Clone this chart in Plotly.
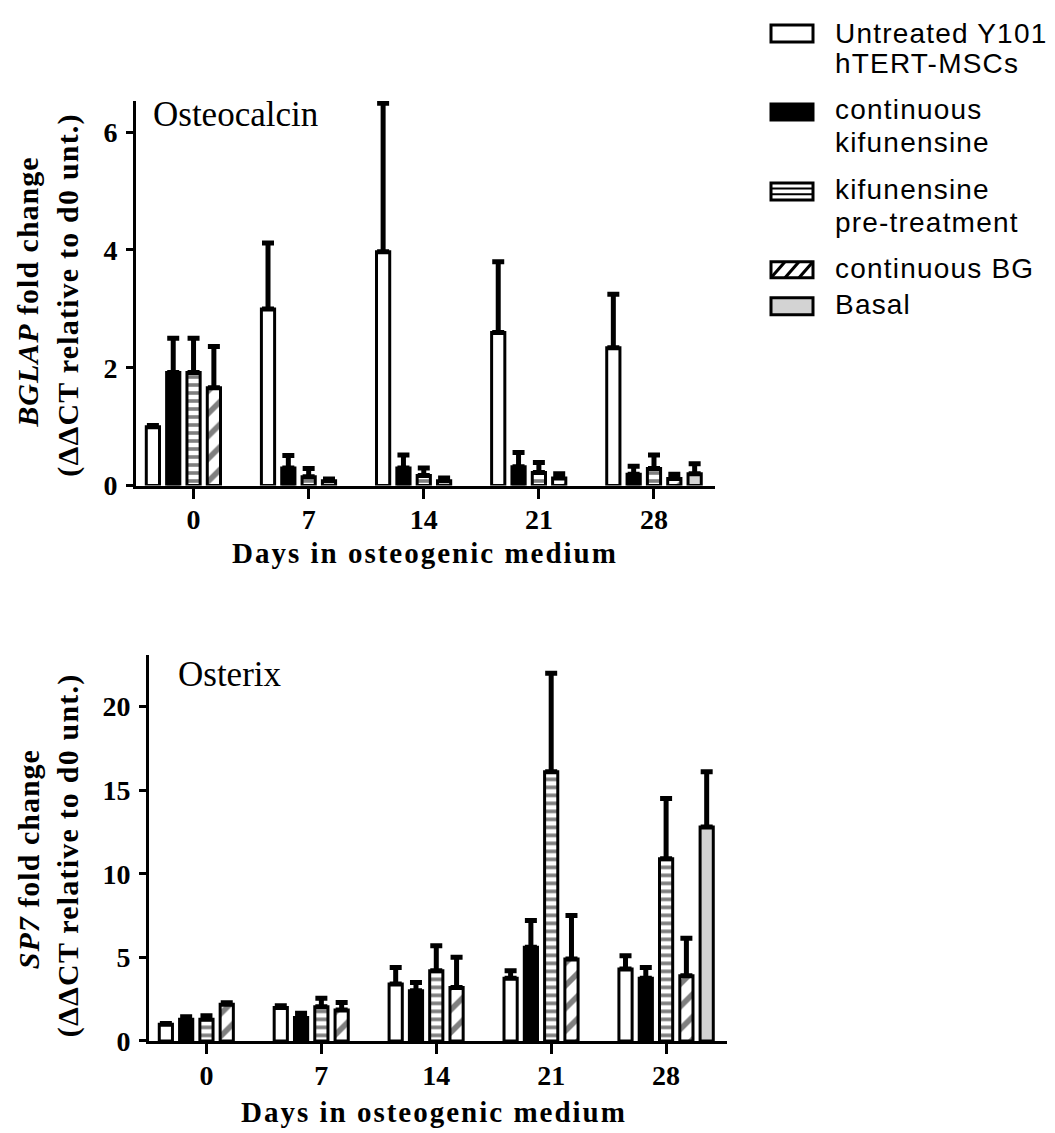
import plotly.graph_objects as go

# ---------------- data ----------------
days = ["0", "7", "14", "21", "28"]
series_names = ["Untreated Y101 hTERT-MSCs", "continuous kifunensine",
                "kifunensine pre-treatment", "continuous BG", "Basal"]

# Osteocalcin (BGLAP) fold change, mean and SD (upper error only)
bglap_untreated = [1.0, 3.0, 3.97, 2.6, 2.34]
bglap_untreated_err = [0.02, 1.12, 2.52, 1.2, 0.91]
bglap_cont_kif = [1.92, 0.3, 0.3, 0.32, 0.19]
bglap_cont_kif_err = [0.58, 0.21, 0.22, 0.24, 0.14]
bglap_kif_pre = [1.92, 0.15, 0.17, 0.22, 0.29]
bglap_kif_pre_err = [0.58, 0.14, 0.13, 0.17, 0.23]
bglap_cont_bg = [1.66, 0.08, 0.08, 0.13, 0.12]
bglap_cont_bg_err = [0.70, 0.03, 0.05, 0.07, 0.07]
bglap_basal = [None, None, None, None, 0.2]
bglap_basal_err = [None, None, None, None, 0.17]

# Osterix (SP7) fold change
sp7_untreated = [1.0, 2.0, 3.4, 3.75, 4.3]
sp7_untreated_err = [0.05, 0.1, 1.0, 0.45, 0.8]
sp7_cont_kif = [1.3, 1.4, 3.0, 5.6, 3.75]
sp7_cont_kif_err = [0.15, 0.25, 0.5, 1.6, 0.65]
sp7_kif_pre = [1.3, 2.05, 4.2, 16.1, 10.9]
sp7_kif_pre_err = [0.2, 0.5, 1.5, 5.9, 3.6]
sp7_cont_bg = [2.2, 1.85, 3.2, 4.9, 3.9]
sp7_cont_bg_err = [0.08, 0.45, 1.8, 2.6, 2.25]
sp7_basal = [None, None, None, None, 12.8]
sp7_basal_err = [None, None, None, None, 3.3]

bglap_ticks = [0, 2, 4, 6]
sp7_ticks = [0, 5, 10, 15, 20]

# ---------------- helpers ----------------
OFF = 8            # default body margin of the html page
W = 1055 - 2 * OFF
H = 1128
SY = 1148 / 1133   # vertical compensation for the page capture


def px(x):
    return (x - OFF) / W


def py(y):
    return 1 - (y * SY - OFF) / H


SERIF = "Liberation Serif"
SANS = "Liberation Sans"
GRAY = "#d3d3d3"

styles = [
    dict(color="white"),
    dict(color="black"),
    dict(color="white", pattern=dict(shape="-", fgcolor="black", bgcolor="white",
                                     size=8, solidity=0.45)),
    dict(color="white", pattern=dict(shape="/", fgcolor="black", bgcolor="white",
                                     size=16, solidity=0.35)),
    dict(color=GRAY),
]


def make_bar(name, vals, errs, style, xa, ya):
    marker = dict(line=dict(color="black", width=3))
    marker.update(style)
    return go.Bar(
        name=name, x=days, y=vals, xaxis=xa, yaxis=ya,
        marker=marker,
        error_y=dict(type="data", array=errs, arrayminus=[0] * len(errs),
                     symmetric=False, color="black", thickness=5, width=6),
        showlegend=False,
    )


fig = go.Figure()

top_sets = [(bglap_untreated, bglap_untreated_err), (bglap_cont_kif, bglap_cont_kif_err),
            (bglap_kif_pre, bglap_kif_pre_err), (bglap_cont_bg, bglap_cont_bg_err),
            (bglap_basal, bglap_basal_err)]
bot_sets = [(sp7_untreated, sp7_untreated_err), (sp7_cont_kif, sp7_cont_kif_err),
            (sp7_kif_pre, sp7_kif_pre_err), (sp7_cont_bg, sp7_cont_bg_err),
            (sp7_basal, sp7_basal_err)]

for name, (v, e), st in zip(series_names, top_sets, styles):
    fig.add_trace(make_bar(name, v, e, st, "x", "y"))
for name, (v, e), st in zip(series_names, bot_sets, styles):
    fig.add_trace(make_bar(name, v, e, st, "x2", "y2"))

tickfont = dict(family=SERIF, size=28, color="black", weight="bold")
common_x = dict(type="category", range=[-0.5, 4.53], showline=True, linewidth=3,
                linecolor="black", ticks="outside", ticklen=10, tickwidth=3,
                tickcolor="black", tickfont=tickfont, showgrid=False, zeroline=False,
                ticklabelstandoff=-3, fixedrange=True)
common_y = dict(showline=True, linewidth=3, linecolor="black", ticks="outside",
                ticklen=7, tickwidth=3, tickcolor="black", tickfont=tickfont,
                showgrid=False, zeroline=False, ticklabelstandoff=3, fixedrange=True)

fig.update_layout(
    width=W, height=H,
    margin=dict(l=0, r=0, t=0, b=0),
    paper_bgcolor="white", plot_bgcolor="white",
    barmode="group", bargap=0.117, bargroupgap=0.35,
    showlegend=False,
    xaxis=dict(domain=[px(136), px(715)], anchor="y", **common_x),
    yaxis=dict(domain=[py(486), py(101)], anchor="x", range=[0, 6.53],
               tickvals=bglap_ticks, **common_y),
    xaxis2=dict(domain=[px(149), px(727)], anchor="y2", **common_x),
    yaxis2=dict(domain=[py(1042), py(656)], anchor="x2", range=[0, 23.07],
                tickvals=sp7_ticks, **common_y),
)

ann = []


def text(x, y, t, size, family=SERIF, bold=False, angle=0, xanchor="center", ls=None):
    if ls is not None:
        t = '<span style="letter-spacing:%spx">%s</span>' % (ls, t)
    ann.append(dict(x=px(x), y=py(y), xref="paper", yref="paper", text=t,
                    showarrow=False, textangle=angle, xanchor=xanchor, yanchor="middle",
                    font=dict(family=family, size=size, color="black",
                              weight="bold" if bold else "normal")))


# panel labels
text(151, 115, "Osteocalcin", 35, xanchor="left")
text(176, 675, "Osterix", 35, xanchor="left")

# x titles
text(425, 554, "Days in osteogenic medium", 29, bold=True, ls=2)
text(434, 1113, "Days in osteogenic medium", 29, bold=True, ls=2)

# y titles
text(28, 293, "<i>BGLAP</i> fold change", 30, bold=True, angle=-90, ls=1)
text(68, 295, "(ΔΔCT relative to d0 unt.)", 30, bold=True, angle=-90, ls=1.2)
text(28, 860, "<i>SP7</i> fold change", 30, bold=True, angle=-90, ls=1)
text(68, 856, "(ΔΔCT relative to d0 unt.)", 30, bold=True, angle=-90, ls=1.2)

# legend (custom, to mimic wide swatches)
shapes = []
leg_items = [
    (25, 42, "white", None, [(33, "Untreated Y101"), (63, "hTERT-MSCs")]),
    (104, 120, "black", None, [(110, "continuous"), (143, "kifunensine")]),
    (183, 200, "white", "h", [(190, "kifunensine"), (223, "pre-treatment")]),
    (262, 278, "white", "d", [(269, "continuous BG")]),
    (298, 315, GRAY, None, [(305, "Basal")]),
]
x0, x1 = 771, 813
for (ya, yb, fill, hatch, lines) in leg_items:
    shapes.append(dict(type="rect", xref="paper", yref="paper",
                       x0=px(x0), x1=px(x1), y0=py(yb), y1=py(ya),
                       fillcolor=fill, line=dict(color="black", width=3)))
    if hatch == "h":
        for f in (1 / 3, 2 / 3):
            yy = ya + (yb - ya) * f
            shapes.append(dict(type="line", xref="paper", yref="paper",
                               x0=px(x0), x1=px(x1), y0=py(yy), y1=py(yy),
                               line=dict(color="black", width=2)))
    if hatch == "d":
        for xs in (x0 + 6, x0 + 20, x0 + 34):
            shapes.append(dict(type="line", xref="paper", yref="paper",
                               x0=px(xs - 6), x1=px(min(xs + 8, x1)), y0=py(yb), y1=py(ya),
                               line=dict(color="black", width=3)))
    for (yy, t) in lines:
        text(833, yy, t, 28, family=SANS, xanchor="left", ls=1.2)

fig.update_layout(annotations=ann, shapes=shapes)

fig.write_html("out.html")
